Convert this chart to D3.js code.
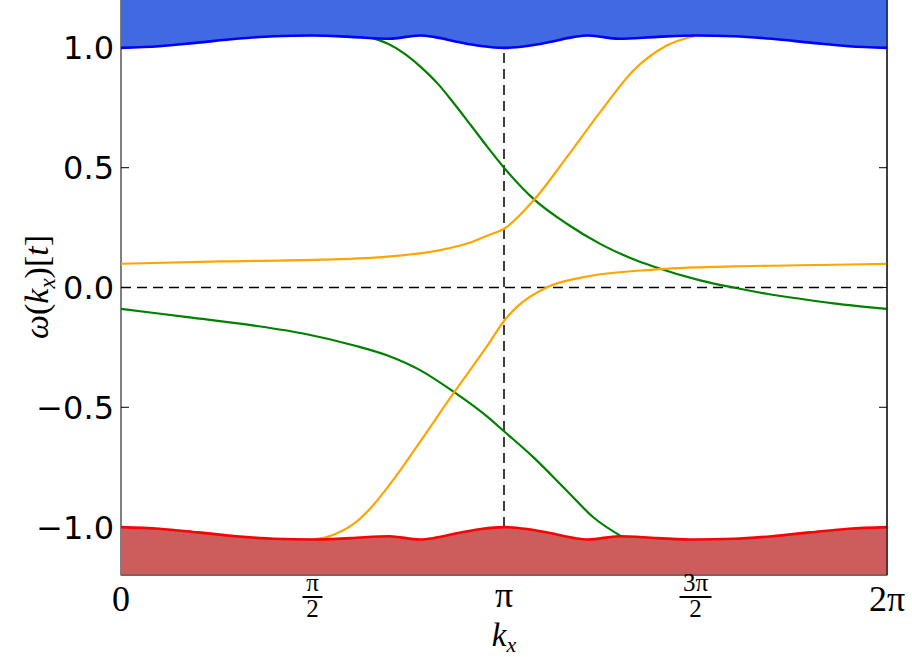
<!DOCTYPE html>
<html>
<head>
<meta charset="utf-8">
<script src="https://cdn.jsdelivr.net/npm/d3@7"></script>
<style>
  html, body { margin: 0; padding: 0; background: #fff; }
  svg { display: block; }
</style>
</head>
<body>
<svg id="chart" width="912" height="657"></svg>
<script>
// Momentum samples are given in units of pi; energies in units of the hopping t.

// Upper bulk band edge (lower band edge is its mirror image, -E)
const bandK = [0, 0.1, 0.2, 0.3, 0.4, 0.5, 0.6, 0.7, 0.78, 0.82, 0.88, 0.94, 1.0,
               1.06, 1.12, 1.18, 1.22, 1.3, 1.4, 1.5, 1.6, 1.7, 1.8, 1.9, 2.0];
const bandE = [1.000, 1.007, 1.022, 1.038, 1.049, 1.052, 1.046, 1.038, 1.052, 1.045, 1.025, 1.008, 1.000,
               1.008, 1.025, 1.045, 1.052, 1.038, 1.046, 1.052, 1.049, 1.038, 1.022, 1.007, 1.000];

// Edge-state branches (green pair)
const green1K = [0.655, 0.696, 0.740, 0.783, 0.827, 0.870, 0.914, 0.957, 1.000, 1.077, 1.164, 1.251, 1.338, 1.390, 1.512, 1.599, 1.686, 1.773, 1.860, 2.000];
const green1E = [1.042, 1.018, 0.976, 0.920, 0.851, 0.767, 0.676, 0.586, 0.500, 0.370, 0.266, 0.182, 0.118, 0.088, 0.030, 0.000, -0.026, -0.047, -0.066, -0.089];
const green2K = [0.000, 0.174, 0.348, 0.479, 0.609, 0.696, 0.783, 0.870, 0.957, 1.000, 1.077, 1.164, 1.233, 1.310];
const green2E = [-0.089, -0.124, -0.159, -0.193, -0.242, -0.284, -0.347, -0.437, -0.540, -0.600, -0.709, -0.848, -0.959, -1.042];

// Edge-state branches (orange pair)
const orange1K = [0.000, 0.261, 0.522, 0.696, 0.827, 0.914, 0.957, 1.000, 1.077, 1.164, 1.251, 1.338, 1.425, 1.500];
const orange1E = [0.099, 0.109, 0.116, 0.129, 0.154, 0.189, 0.217, 0.245, 0.363, 0.544, 0.732, 0.906, 1.010, 1.051];
const orange2K = [0.500, 0.550, 0.609, 0.652, 0.696, 0.783, 0.870, 0.957, 1.000, 1.033, 1.111, 1.207, 1.390, 1.599, 1.860, 2.000];
const orange2E = [-1.052, -1.035, -0.985, -0.920, -0.834, -0.639, -0.437, -0.242, -0.140, -0.082, 0.000, 0.043, 0.075, 0.088, 0.095, 0.099];

// Axis ticks
const yTicks = [-1.0, -0.5, 0.0, 0.5, 1.0];
const yTickLabels = ["\u22121.0", "\u22120.5", "0.0", "0.5", "1.0"];
const xTicks = [0, 0.5, 1, 1.5, 2];   // in units of pi

const PI = Math.PI;
const svg = d3.select("#chart");
const plotL = 121, plotR = 887, plotT = 0, plotB = 575;

const x = d3.scaleLinear().domain([0, 2 * PI]).range([plotL, plotR]);
const y = d3.scaleLinear().domain([-1.2, 1.2]).range([plotB, plotT]);

const zip = (ks, es) => ks.map((k, i) => ({ k: k * PI, e: es[i] }));
const line = d3.line().x(d => x(d.k)).y(d => y(d.e)).curve(d3.curveMonotoneX);

const band = zip(bandK, bandE);

// frame
svg.append("rect")
  .attr("x", plotL).attr("y", plotT)
  .attr("width", plotR - plotL).attr("height", plotB - plotT)
  .attr("fill", "none").attr("stroke", "#000").attr("stroke-width", 1);

// ticks on left and right spines (pointing inward)
const tickG = svg.append("g");
yTicks.forEach(v => {
  tickG.append("line").attr("x1", plotL).attr("x2", plotL + 8)
    .attr("y1", y(v)).attr("y2", y(v)).attr("stroke", "#000").attr("stroke-width", 1);
  tickG.append("line").attr("x1", plotR).attr("x2", plotR - 8)
    .attr("y1", y(v)).attr("y2", y(v)).attr("stroke", "#000").attr("stroke-width", 1);
});

// zero-energy and k = pi guides
svg.append("line")
  .attr("x1", x(0)).attr("x2", x(2 * PI))
  .attr("y1", y(0)).attr("y2", y(0))
  .attr("stroke", "#000").attr("stroke-width", 1.5).attr("stroke-dasharray", "10,6");
svg.append("line")
  .attr("x1", x(PI)).attr("x2", x(PI))
  .attr("y1", y(-1)).attr("y2", y(1))
  .attr("stroke", "#000").attr("stroke-width", 1.5).attr("stroke-dasharray", "10,6");

// edge-state dispersions
const curves = [
  { d: zip(green1K, green1E), c: "#008000" },
  { d: zip(green2K, green2E), c: "#008000" },
  { d: zip(orange1K, orange1E), c: "#FFA500" },
  { d: zip(orange2K, orange2E), c: "#FFA500" }
];
curves.forEach(s => {
  svg.append("path").datum(s.d).attr("d", line)
    .attr("fill", "none").attr("stroke", s.c).attr("stroke-width", 2.2);
});

// bulk continua
const upperArea = d3.area().x(d => x(d.k)).y0(y(1.2)).y1(d => y(d.e)).curve(d3.curveMonotoneX);
const lowerArea = d3.area().x(d => x(d.k)).y0(y(-1.2)).y1(d => y(-d.e)).curve(d3.curveMonotoneX);
const lowerLine = d3.line().x(d => x(d.k)).y(d => y(-d.e)).curve(d3.curveMonotoneX);

svg.append("path").datum(band).attr("d", upperArea).attr("fill", "#4169E1");
svg.append("path").datum(band).attr("d", line)
  .attr("fill", "none").attr("stroke", "#0000FF").attr("stroke-width", 2.6);
svg.append("path").datum(band).attr("d", lowerArea).attr("fill", "#CD5C5C");
svg.append("path").datum(band).attr("d", lowerLine)
  .attr("fill", "none").attr("stroke", "#FF0000").attr("stroke-width", 2.6);

// bottom and right spines over the fill
svg.append("line").attr("x1", plotL).attr("x2", plotR).attr("y1", plotB).attr("y2", plotB)
  .attr("stroke", "#555").attr("stroke-width", 1);
svg.append("line").attr("x1", plotR).attr("x2", plotR).attr("y1", plotT).attr("y2", plotB)
  .attr("stroke", "#000").attr("stroke-width", 1);

// y tick labels
const sans = "DejaVu Sans, sans-serif";
yTicks.forEach((v, i) => {
  svg.append("text")
    .attr("x", 114).attr("y", y(v)).attr("dy", "0.36em")
    .attr("text-anchor", "end")
    .attr("font-family", sans).attr("font-size", 32)
    .text(yTickLabels[i]);
});

// x tick labels (math style)
const serif = "Liberation Serif, DejaVu Serif, serif";
function simple(xv, str, base) {
  svg.append("text").attr("x", x(xv * PI)).attr("y", base)
    .attr("text-anchor", "middle").attr("font-family", serif).attr("font-size", 36)
    .text(str);
}
function frac(xv, num, den) {
  const cx = x(xv * PI);
  svg.append("text").attr("x", cx).attr("y", 591)
    .attr("text-anchor", "middle").attr("font-family", serif).attr("font-size", 25)
    .text(num);
  const w = num.length > 1 ? 32 : 20;
  svg.append("line").attr("x1", cx - w / 2).attr("x2", cx + w / 2)
    .attr("y1", 597).attr("y2", 597).attr("stroke", "#000").attr("stroke-width", 2);
  svg.append("text").attr("x", cx).attr("y", 617)
    .attr("text-anchor", "middle").attr("font-family", serif).attr("font-size", 25)
    .text(den);
}
simple(xTicks[0], "0", 611);
frac(xTicks[1], "\u03C0", "2");
simple(xTicks[2], "\u03C0", 607);
frac(xTicks[3], "3\u03C0", "2");
simple(xTicks[4], "2\u03C0", 611);

// axis titles
const xl = svg.append("text").attr("x", x(PI)).attr("y", 646)
  .attr("text-anchor", "middle").attr("font-family", serif).attr("font-size", 33);
xl.append("tspan").attr("font-style", "italic").text("k");
xl.append("tspan").attr("font-style", "italic").attr("font-size", 22).attr("dy", 6).text("x");

const yl = svg.append("text")
  .attr("transform", "translate(48,287) rotate(-90)")
  .attr("text-anchor", "middle").attr("font-family", serif).attr("font-size", 34);
yl.append("tspan").attr("font-style", "italic").text("\u03C9");
yl.append("tspan").text("(");
yl.append("tspan").attr("font-style", "italic").text("k");
yl.append("tspan").attr("font-style", "italic").attr("font-size", 23).attr("dy", 7).text("x");
yl.append("tspan").attr("dy", -7).text(")[");
yl.append("tspan").attr("font-style", "italic").text("t");
yl.append("tspan").text("]");
</script>
</body>
</html>
